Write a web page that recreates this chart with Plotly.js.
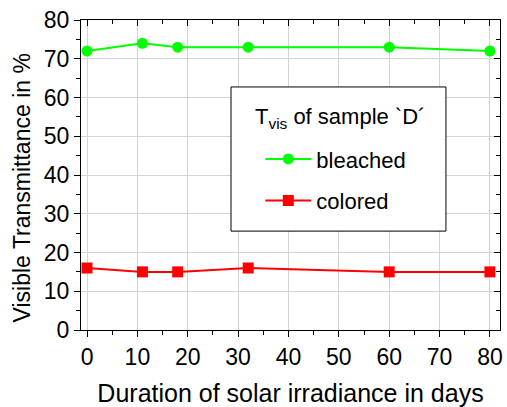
<!DOCTYPE html>
<html><head><meta charset="utf-8">
<script src="https://cdn.plot.ly/plotly-3.0.1.min.js"></script>
<style>html,body{margin:0;padding:0;background:#fff;}#chart{width:507px;height:407px;}</style>
</head><body><div id="chart"></div>
<script>
const days = [0, 11, 18, 32, 60, 80];
const bleached = [72, 74, 73, 73, 73, 72];
const colored = [16, 15, 15, 16, 15, 15];
const xTicks = [0, 10, 20, 30, 40, 50, 60, 70, 80];
const yTicks = [0, 10, 20, 30, 40, 50, 60, 70, 80];
const legendTitle = 'T<sub>vis</sub> of sample `D´';

const F = 'Liberation Sans, Arial, sans-serif';
const traces = [
  {x: days, y: bleached, name: 'bleached', legendgroup: 'a', mode: 'lines+markers',
   line: {color: '#00ff00', width: 2}, marker: {symbol: 'circle', size: 11, color: '#00ff00'}},
  {x: days, y: colored, name: 'colored', legendgroup: 'b', mode: 'lines+markers',
   line: {color: '#ff0000', width: 2}, marker: {symbol: 'square', size: 11, color: '#ff0000'}},
  {x: days, y: colored, xaxis: 'x2', yaxis: 'y2', mode: 'markers', showlegend: false,
   hoverinfo: 'skip', marker: {opacity: 0}}
];
const axBase = {
  showline: true, linecolor: '#000', linewidth: 1, zeroline: false,
  tickfont: {family: F, size: 23, color: '#000'}, tickcolor: '#000', ticklen: 6, tickwidth: 1
};
const layout = {
  width: 507, height: 407,
  margin: {l: 81, r: 7, t: 20, b: 77},
  paper_bgcolor: '#fff', plot_bgcolor: '#fff',
  showlegend: true,
  font: {family: F, color: '#000'},
  xaxis: Object.assign({}, axBase, {
    range: [-1.2, 82], tickvals: xTicks, ticktext: xTicks.map(String), ticks: 'outside',
    showgrid: true, gridcolor: '#d3d3d3', gridwidth: 1,
    minor: {dtick: 5, tick0: 0, ticks: 'outside', ticklen: 4, tickcolor: '#000', showgrid: false},
    title: {text: 'Duration of solar irradiance in days', font: {family: F, size: 25, color: '#000'}, standoff: 16}
  }),
  yaxis: Object.assign({}, axBase, {
    range: [0, 80], tickvals: yTicks, ticktext: yTicks.map(String), ticks: 'outside',
    showgrid: true, gridcolor: '#d3d3d3', gridwidth: 1,
    minor: {dtick: 5, tick0: 0, ticks: 'outside', ticklen: 4, tickcolor: '#000', showgrid: false},
    title: {text: 'Visible Transmittance in %&nbsp;&nbsp;&nbsp;&nbsp;', font: {family: F, size: 23, color: '#000'}, standoff: 6}
  }),
  xaxis2: Object.assign({}, axBase, {
    overlaying: 'x', side: 'top', anchor: 'y2', range: [-1.2, 82], tickvals: xTicks, showticklabels: false,
    ticks: 'inside', showgrid: false,
    minor: {dtick: 5, tick0: 0, ticks: 'inside', ticklen: 4, tickcolor: '#000', showgrid: false}
  }),
  yaxis2: Object.assign({}, axBase, {
    overlaying: 'y', side: 'right', anchor: 'x2', range: [0, 80], tickvals: yTicks, showticklabels: false,
    ticks: 'inside', showgrid: false,
    minor: {dtick: 5, tick0: 0, ticks: 'inside', ticklen: 4, tickcolor: '#000', showgrid: false}
  }),
  shapes: [
    {type: 'rect', xref: 'paper', yref: 'paper', x0: 0.358, x1: 0.871, y0: 0.319, y1: 0.784,
     fillcolor: '#fff', line: {color: '#000', width: 1}, layer: 'above'}
  ],
  annotations: [
    {text: legendTitle, xref: 'paper', yref: 'paper', x: 0.41, y: 0.684, xanchor: 'left', yanchor: 'middle',
     showarrow: false, font: {family: F, size: 22, color: '#000'}}
  ],
  legend: {
    x: 0.428, y: 0.619, xanchor: 'left', yanchor: 'top',
    bgcolor: 'rgba(0,0,0,0)', borderwidth: 0,
    font: {family: F, size: 22, color: '#000'},
    itemwidth: 46, tracegroupgap: 10
  }
};
Plotly.newPlot('chart', traces, layout, {displayModeBar: false, staticPlot: true});
</script></body></html>
